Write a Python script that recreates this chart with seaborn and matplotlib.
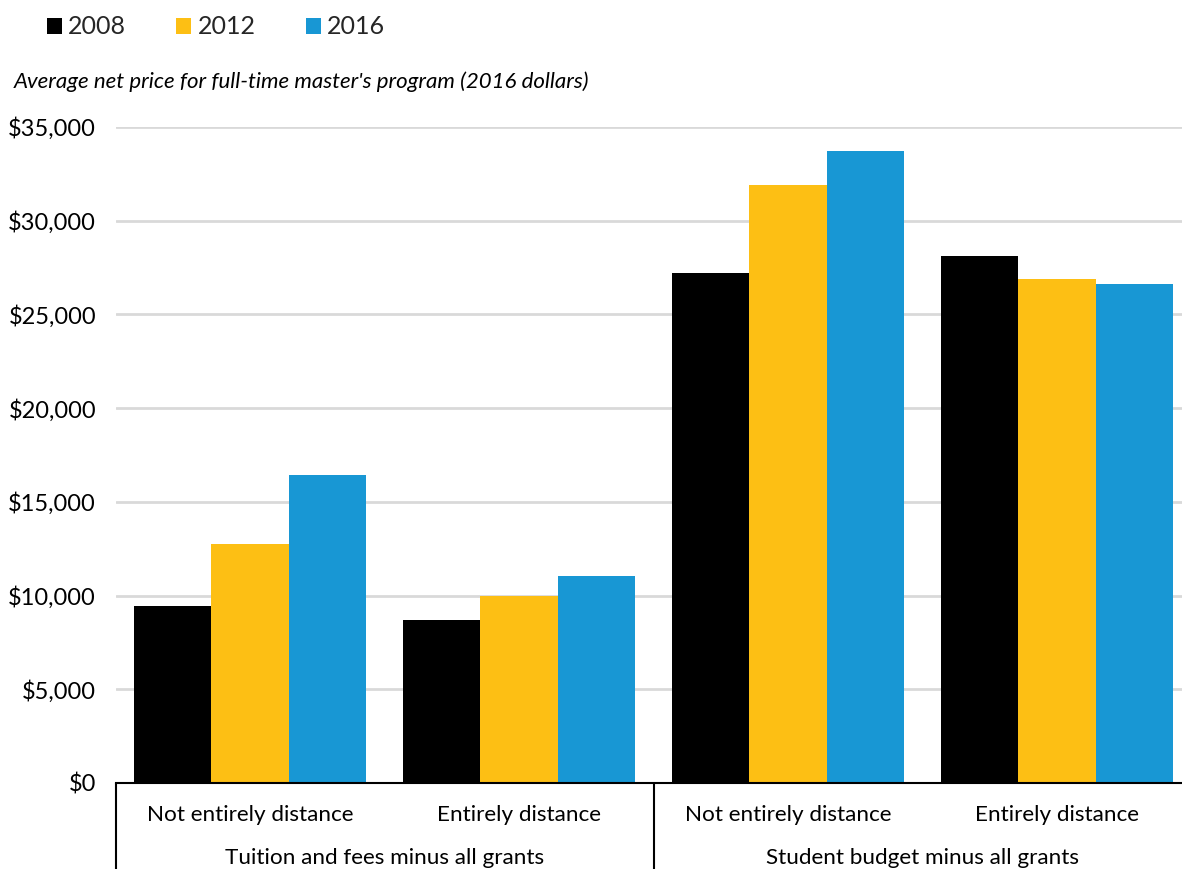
import matplotlib
matplotlib.use("Agg")
import matplotlib.pyplot as plt
import matplotlib.transforms as mtransforms
from matplotlib.patches import Patch
from matplotlib.ticker import FuncFormatter
import pandas as pd
import seaborn as sns

# Net price data (2016 dollars)
groups = ["Tuition and fees minus all grants", "Student budget minus all grants"]
categories = ["Not entirely distance", "Entirely distance",
              "Not entirely distance", "Entirely distance"]
years = ["2008", "2012", "2016"]
values_2008 = [9450, 8700, 27200, 28100]
values_2012 = [12750, 10000, 31900, 26900]
values_2016 = [16450, 11050, 33700, 26600]
colors = ["#000000", "#FDBF14", "#1897D4"]

slots = [f"c{i}" for i in range(len(categories))]
rows = []
for year, vals in zip(years, [values_2008, values_2012, values_2016]):
    for slot, v in zip(slots, vals):
        rows.append({"slot": slot, "year": year, "value": v})
df = pd.DataFrame(rows)

sns.set_theme(style="white")
plt.rcParams["font.family"] = ["Lato", "DejaVu Sans"]

fig = plt.figure(figsize=(11.82, 8.69), dpi=100)
ax = fig.add_axes([115.5 / 1182, 86 / 869, 1076 / 1182, (783 - 127) / 869])

sns.barplot(data=df, x="slot", y="value", hue="year", order=slots,
            hue_order=years, palette=colors, width=0.859, gap=0,
            saturation=1, legend=False, ax=ax, linewidth=0)

ax.set_xlim(-0.5, len(categories) - 0.5)
ax.set_ylim(0, 35000)
ax.set_yticks(range(0, 35001, 5000))
ax.yaxis.set_major_formatter(FuncFormatter(lambda v, p: f"${v:,.0f}"))
ax.tick_params(axis="y", length=0, pad=14, labelsize=17, labelcolor="#000000")
ax.set_xticks([])
ax.set_xlabel("")
ax.set_ylabel("")
ax.yaxis.grid(True, color="#D9D9D9", linewidth=2)
ax.set_axisbelow(True)
for s in ["top", "right", "left"]:
    ax.spines[s].set_visible(False)
ax.spines["bottom"].set_color("black")
ax.spines["bottom"].set_linewidth(1.5)
ax.spines["bottom"].set_zorder(5)

# Two-level category axis below the plot
trans = mtransforms.blended_transform_factory(ax.transData, ax.transAxes)
px = 1 / ((783 - 127))  # one pixel in axes-fraction units
for xs in [-0.5, 1.5, 3.5]:
    ax.plot([xs, xs], [0, -100 * px], color="black", linewidth=1.5,
            transform=trans, clip_on=False)
for i, cat in enumerate(categories):
    ax.text(i, -32 * px, cat, transform=trans, ha="center", va="center",
            fontsize=16.2, color="#000000")
for j, grp in enumerate(groups):
    ax.text(2 * j + 0.5, -75 * px, grp, transform=trans, ha="center",
            va="center", fontsize=16.2, color="#000000")

# Legend and subtitle
handles = [Patch(facecolor=c, edgecolor="none", label=y) for c, y in zip(colors, years)]
fig.legend(handles=handles, loc="center left", bbox_to_anchor=(47 / 1182, 1 - 27 / 869),
           ncol=3, frameon=False, fontsize=18, handlelength=0.6, handleheight=0.6,
           handletextpad=0.25, columnspacing=2.0, borderaxespad=0, borderpad=0)
fig.text(14 / 1182, 1 - 82 / 869,
         "Average net price for full-time master's program (2016 dollars)",
         fontsize=16, style="italic", va="center", ha="left", color="#000000")

fig.savefig("out.png", dpi=100)
